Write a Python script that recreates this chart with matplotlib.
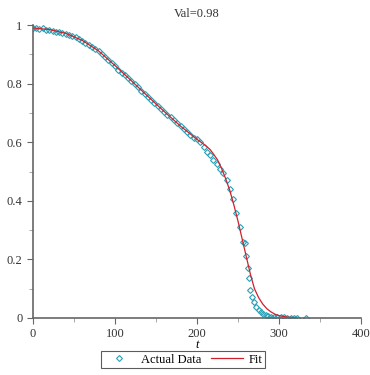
import numpy as np
import matplotlib.pyplot as plt

plt.rcParams['font.family'] = ['Liberation Serif', 'DejaVu Serif']

# measured data
t_data = [0, 4, 8, 12, 16, 20, 24, 28, 32, 36, 40, 44, 48, 52, 56, 60, 64, 68, 72, 76,
          80, 84, 88, 92, 96, 100, 104, 108, 112, 116, 120, 124, 128, 132, 136, 140,
          144, 148, 152, 156, 160, 164, 168, 172, 176, 180, 184, 188, 192, 196, 200,
          204, 208, 212, 216, 220, 224, 228, 232, 236, 240, 244, 248, 252, 256, 259,
          260, 262, 263, 265, 267, 269, 272, 275, 278, 281, 284, 287, 290, 294, 298,
          302, 306, 310, 314, 318, 322, 333]
y_data = [0.99, 0.99, 0.988, 0.99, 0.985, 0.983, 0.98, 0.978, 0.975, 0.972, 0.97,
          0.967, 0.963, 0.958, 0.953, 0.947, 0.94, 0.933, 0.926, 0.918, 0.91, 0.90,
          0.89, 0.88, 0.87, 0.86, 0.848, 0.838, 0.828, 0.818, 0.808, 0.798, 0.788,
          0.776, 0.765, 0.755, 0.745, 0.735, 0.725, 0.715, 0.703, 0.693, 0.685, 0.675,
          0.665, 0.655, 0.645, 0.635, 0.625, 0.615, 0.61, 0.60, 0.585, 0.568, 0.555,
          0.54, 0.525, 0.51, 0.495, 0.47, 0.44, 0.405, 0.36, 0.31, 0.26, 0.257,
          0.21, 0.17, 0.137, 0.096, 0.072, 0.055, 0.038, 0.027, 0.02, 0.014, 0.01,
          0.007, 0.005, 0.004, 0.003, 0.002, 0.002, 0.001, 0.001, 0.001, 0.001, 0.0]

# fitted curve
t_fit = [0, 20, 40, 60, 80, 100, 120, 140, 160, 180, 200, 210, 216, 220, 225, 230,
         235, 240, 245, 250, 255, 260, 265, 270, 275, 280, 285, 290, 295, 300, 310, 320]
y_fit = [0.99, 0.985, 0.972, 0.948, 0.912, 0.862, 0.81, 0.757, 0.705, 0.655, 0.61,
         0.59, 0.575, 0.56, 0.54, 0.51, 0.475, 0.435, 0.385, 0.33, 0.27, 0.21, 0.15,
         0.10, 0.07, 0.048, 0.032, 0.021, 0.013, 0.008, 0.003, 0.001]

fig = plt.figure(figsize=(3.7, 3.75), dpi=100)
ax = fig.add_axes([0.089, 0.152, 0.887, 0.781])

ax.plot(t_data, y_data, 'D', ms=3, mfc='none', mec='#2aa0b4', mew=0.8,
        label='Actual Data')
ax.plot(t_fit, y_fit, '-', color='#d0202a', lw=0.9, label='Fit')

ax.set_xlim(0, 400)
ax.set_ylim(0, 1.0)
ax.set_xticks([0, 100, 200, 300, 400])
ax.set_xticks([50, 150, 250, 350], minor=True)
ax.set_yticks([0, 0.2, 0.4, 0.6, 0.8, 1])
ax.set_yticklabels(['0', '0.2', '0.4', '0.6', '0.8', '1'])
ax.set_yticks([0.1, 0.3, 0.5, 0.7, 0.9], minor=True)

for s in ['top', 'right']:
    ax.spines[s].set_visible(False)
for s in ['left', 'bottom']:
    ax.spines[s].set_color('#666666')
    ax.spines[s].set_linewidth(1.2)
ax.tick_params(which='major', length=4, color='#666666', labelsize=9,
               labelcolor='#333333')
ax.tick_params(which='minor', length=3, color='#999999')

ax.set_title('Val=0.98', fontsize=9, color='#333333', pad=6)
ax.set_xlabel('t', fontstyle='italic', fontsize=9, labelpad=-1)

leg = fig.legend(loc='upper center', bbox_to_anchor=(0.495, 0.08), ncol=2,
                 fontsize=9, frameon=True, fancybox=False, edgecolor='#333333',
                 handlelength=2.5, borderpad=0.2, columnspacing=0.8,
                 handletextpad=0.5)
leg.get_frame().set_linewidth(0.8)

plt.savefig('out.png')
